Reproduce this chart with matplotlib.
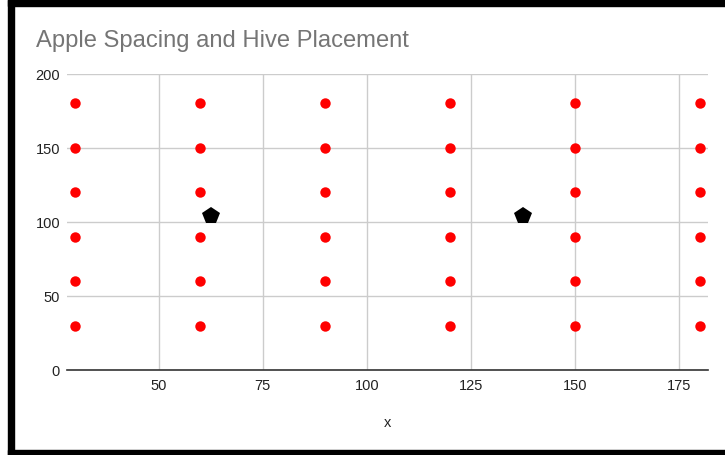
import matplotlib
matplotlib.use("Agg")
import matplotlib.pyplot as plt
from matplotlib.patches import Rectangle

plt.rcParams['font.family'] = ['Liberation Sans', 'DejaVu Sans']

apple_x = [30, 60, 90, 120, 150, 180]
apple_y = [30, 60, 90, 120, 150, 180]
hive_x = [62.5, 137.5]
hive_y = [104, 104]
x_ticks = [50, 75, 100, 125, 150, 175]
y_ticks = [0, 50, 100, 150, 200]

W, H = 725, 456
fig = plt.figure(figsize=(W / 100, H / 100), dpi=100)
ax = fig.add_axes([67 / W, (H - 371) / H, (708 - 67) / W, (371 - 74.5) / H])

ax_pts_x = [x for x in apple_x for _ in apple_y]
ax_pts_y = [y for _ in apple_x for y in apple_y]
ax.plot(ax_pts_x, ax_pts_y, linestyle='none', marker='o', color='#ff0000',
        markersize=7.5, markeredgewidth=0, zorder=3, clip_on=False)
ax.plot(hive_x, hive_y, linestyle='none', marker='p', color='#000000',
        markersize=13, markeredgewidth=0, zorder=4, clip_on=False)

ax.set_xlim(28, 182)
ax.set_ylim(0, 200)
ax.set_xticks(x_ticks)
ax.set_yticks(y_ticks)
ax.grid(True, color='#cccccc', linewidth=1)
ax.set_axisbelow(True)
for s in ['top', 'right', 'left']:
    ax.spines[s].set_visible(False)
ax.spines['bottom'].set_color('#333333')
ax.spines['bottom'].set_linewidth(1.2)
ax.spines['bottom'].set_zorder(5)
ax.tick_params(axis='both', length=0, labelsize=10.5, colors='#222222')
ax.tick_params(axis='x', pad=6)
ax.tick_params(axis='y', pad=5)
ax.set_xlabel('x', fontsize=10.5, color='#222222', labelpad=16)

fig.text(36 / W, 1 - 41 / H, 'Apple Spacing and Hive Placement', fontsize=17.1,
         color='#757575', ha='left', va='center')

# black frame
fig.patches.append(Rectangle((8 / W, 0), 6 / W, 1, transform=fig.transFigure,
                             color='black', zorder=10))
fig.patches.append(Rectangle((8 / W, 1 - 7 / H), 1, 6 / H, transform=fig.transFigure,
                             color='black', zorder=10))
fig.patches.append(Rectangle((8 / W, 0), 1, 5 / H, transform=fig.transFigure,
                             color='black', zorder=10))

fig.savefig('out.png', dpi=100)
